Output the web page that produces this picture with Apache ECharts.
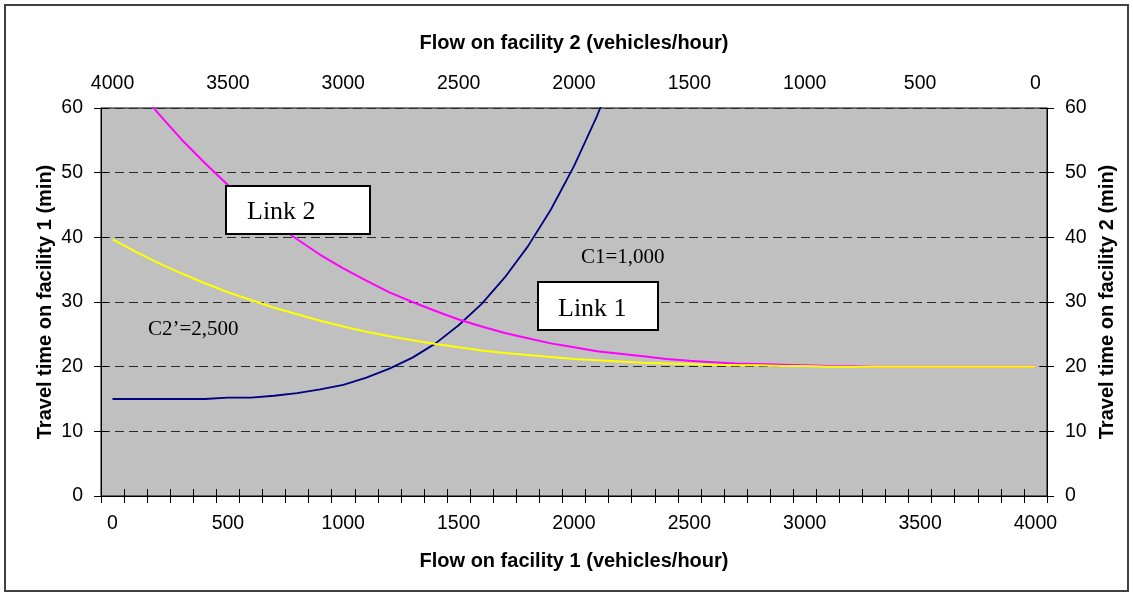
<!DOCTYPE html>
<html>
<head>
<meta charset="utf-8">
<script src="https://cdn.jsdelivr.net/npm/echarts@6/dist/echarts.min.js"></script>
<style>
html,body{margin:0;padding:0;background:#fff;}
#chart{width:1133px;height:596px;}
</style>
</head>
<body>
<div id="chart"></div>
<script>
// Flow on facility 1 (vehicles/hour), categories 0..4000 step 100
const flow1 = [0,100,200,300,400,500,600,700,800,900,1000,1100,1200,1300,1400,1500,1600,1700,1800,1900,2000,
  2100,2200,2300,2400,2500,2600,2700,2800,2900,3000,3100,3200,3300,3400,3500,3600,3700,3800,3900,4000];
// Flow on facility 2 = complementary labels for the top axis
const flow2 = [4000,3900,3800,3700,3600,3500,3400,3300,3200,3100,3000,2900,2800,2700,2600,2500,2400,2300,2200,2100,2000,
  1900,1800,1700,1600,1500,1400,1300,1200,1100,1000,900,800,700,600,500,400,300,200,100,0];
// Travel time on facility 1 (Link 1, C1=1,000)
const link1 = [15.0,15.0,15.0,15.0,15.0,15.2,15.2,15.5,15.9,16.5,17.2,18.3,19.7,21.4,23.6,26.4,29.7,33.8,38.6,44.3,51.0,
  58.8,67.7,null,null,null,null,null,null,null,null,null,null,null,null,null,null,null,null,null,null];
// Travel time on facility 2 (Link 2)
const link2 = [68.0,63.4,59.1,55.1,51.5,48.1,45.1,42.2,39.7,37.3,35.2,33.3,31.5,30.0,28.6,27.3,26.2,25.2,24.4,23.6,23.0,
  22.4,22.0,21.6,21.2,20.9,20.7,20.5,20.4,20.3,20.2,20.1,20.1,20.0,20.0,20.0,20.0,20.0,20.0,20.0,20.0];
// Travel time on facility 2 with C2'=2,500
const link2b = [39.7,37.8,36.0,34.4,32.9,31.5,30.3,29.1,28.1,27.1,26.2,25.4,24.7,24.1,23.5,23.0,22.5,22.1,21.8,21.5,21.2,
  21.0,20.8,20.6,20.5,20.4,20.3,20.2,20.2,20.1,20.1,20.0,20.0,20.0,20.0,20.0,20.0,20.0,20.0,20.0,20.0];
const yTicks = [0,10,20,30,40,50,60];

const SANS = "'Liberation Sans', Arial, sans-serif";
const SERIF = "'Liberation Serif', 'Times New Roman', serif";
const labelStyle = {color:'#000', fontSize:19.5, fontFamily:SANS};
const nameStyle = {color:'#000', fontSize:20, fontWeight:'bold', fontFamily:SANS};

function catAxis(pos, data, main, name, gap){
  return {
    type:'category', position:pos, data:data, boundaryGap:true,
    axisLine:{show:main, lineStyle:{color:'#000', width:1}},
    axisTick:{show:true, interval:0, inside:!main, length:7, lineStyle:{color:'#000', width:1}},
    axisLabel:{show:main, interval:4, margin: pos==='bottom'?18:14, ...labelStyle},
    splitLine:{show:false},
    name: main ? name : '', nameLocation:'middle', nameGap:gap, nameTextStyle:nameStyle
  };
}
function valAxis(pos, main, name, gap, grid){
  return {
    type:'value', position:pos, min:yTicks[0], max:yTicks[yTicks.length-1], interval:10,
    axisLine:{show:main, lineStyle:{color:'#000', width:1}},
    axisTick:{show:true, inside:!main, length:7, lineStyle:{color:'#000', width:1}},
    axisLabel:{show:main, margin:18, ...labelStyle},
    splitLine:{show:grid, lineStyle:{color:'#2a2a2a', width:1, type:[9,5]}},
    name: main ? name : '', nameLocation:'middle', nameGap:gap, nameRotate:90, nameTextStyle:nameStyle,
    nameMoveOverlap:false
  };
}

const chart = echarts.init(document.getElementById('chart'), null, {renderer:'canvas'});
chart.setOption({
  animation:false,
  backgroundColor:'#fff',
  grid:{left:101, right:86, top:108, bottom:100, show:true, backgroundColor:'#C0C0C0', borderColor:'#000', borderWidth:1},
  xAxis:[
    catAxis('bottom', flow1, true, 'Flow on facility 1 (vehicles/hour)', 55),
    catAxis('top', flow2, true, 'Flow on facility 2 (vehicles/hour)', 55),
    catAxis('bottom', flow1, false, '', 0),
    catAxis('top', flow2, false, '', 0)
  ],
  yAxis:[
    valAxis('left', true, 'Travel time on facility 1 (min)', 46, true),
    valAxis('right', true, 'Travel time on facility 2 (min)', 50, false),
    valAxis('left', false, '', 0, false),
    valAxis('right', false, '', 0, false)
  ],
  series:[
    {type:'line', name:'Link 1', data:link1, xAxisIndex:0, yAxisIndex:0, symbol:'none', clip:true,
      lineStyle:{color:'#000080', width:1.8}},
    {type:'line', name:'Link 2', data:link2, xAxisIndex:0, yAxisIndex:0, symbol:'none', clip:true,
      lineStyle:{color:'#FF00FF', width:2}},
    {type:'line', name:"Link 2 C2'", data:link2b, xAxisIndex:0, yAxisIndex:0, symbol:'none', clip:true,
      lineStyle:{color:'#FFFF00', width:2}}
  ],
  graphic:[
    {type:'rect', shape:{x:5, y:5, width:1123, height:586}, style:{fill:'none', stroke:'#404040', lineWidth:2}, silent:true, z:100},
    {type:'rect', shape:{x:226, y:186, width:144, height:48}, style:{fill:'#fff', stroke:'#000', lineWidth:2}, z:100},
    {type:'text', x:247, y:212, style:{text:'Link 2', font:'26px ' + SERIF, fill:'#000', verticalAlign:'middle', align:'left'}, z:101},
    {type:'rect', shape:{x:538, y:282, width:120, height:48}, style:{fill:'#fff', stroke:'#000', lineWidth:2}, z:100},
    {type:'text', x:558, y:309, style:{text:'Link 1', font:'26px ' + SERIF, fill:'#000', verticalAlign:'middle', align:'left'}, z:101},
    {type:'text', x:581, y:257, style:{text:'C1=1,000', font:'21px ' + SERIF, fill:'#000', verticalAlign:'middle', align:'left'}, z:101},
    {type:'text', x:148, y:329, style:{text:'C2\u2019=2,500', font:'21px ' + SERIF, fill:'#000', verticalAlign:'middle', align:'left'}, z:101}
  ]
});
</script>
</body>
</html>
